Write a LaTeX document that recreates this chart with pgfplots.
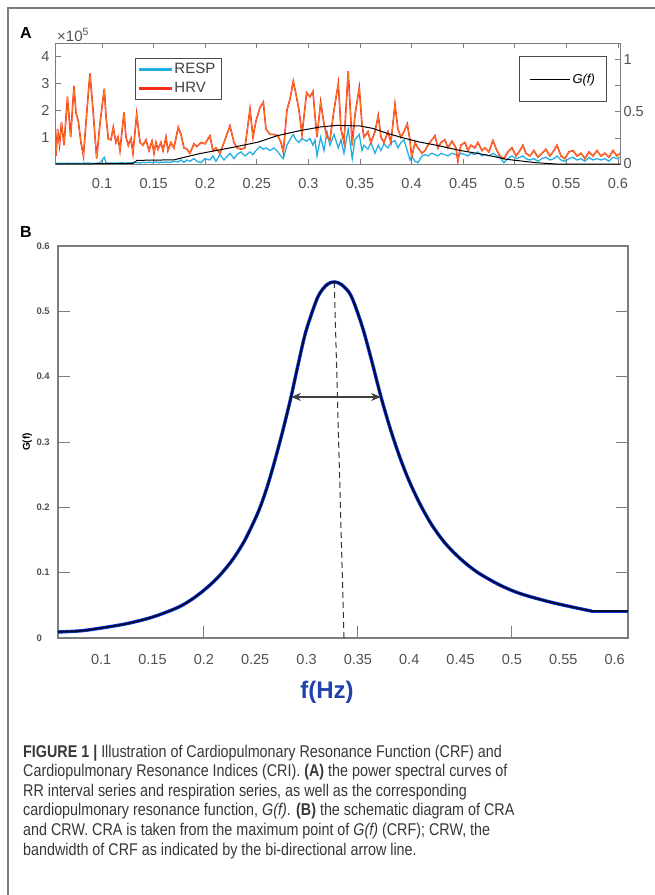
\documentclass[border=0pt]{standalone}
\usepackage{graphicx}
\usepackage{pgfplots}
\usepackage{pgfplotstable}
\pgfplotsset{compat=1.18}
\usetikzlibrary{arrows.meta}
\usepackage{fontspec}
\setmainfont{Liberation Sans}
\definecolor{axgray}{RGB}{125,125,125}
\definecolor{lblgray}{RGB}{80,80,80}
\definecolor{leggray}{RGB}{65,65,65}
\definecolor{capgray}{RGB}{55,55,55}
\definecolor{hrvred}{RGB}{245,45,25}
\definecolor{hrvorange}{RGB}{255,150,40}
\definecolor{respcyan}{RGB}{35,175,225}
\definecolor{gblue}{RGB}{10,55,225}
\definecolor{gdark}{RGB}{5,10,50}
\definecolor{hzblue}{RGB}{35,65,170}

\pgfplotstableread{
f hrv resp
0.0554 0.3 0.02
0.0569 1.3 0.03
0.0588 0.7 0.02
0.0607 1.55 0.03
0.0632 0.7 0.02
0.0665 2.5 0.03
0.0696 1.0 0.02
0.0728 2.9 0.03
0.0748 1.9 0.02
0.0770 1.6 0.03
0.0796 0.8 0.02
0.0820 0.3 0.03
0.0854 2.0 0.04
0.0883 3.37 0.03
0.0913 2.0 0.02
0.0948 0.2 0.03
0.0980 1.5 0.04
0.1022 2.8 0.25
0.1038 1.8 0.05
0.1061 0.93 0.03
0.1087 0.9 0.04
0.1109 1.37 0.03
0.1135 0.8 0.04
0.1155 1.0 0.03
0.1174 0.5 0.05
0.1213 1.92 0.04
0.1232 1.0 0.03
0.1255 0.69 0.05
0.1281 0.95 0.04
0.1300 0.4 0.06
0.1336 1.86 0.05
0.1368 0.8 0.04
0.1397 0.7 0.06
0.1426 0.9 0.05
0.1455 0.5 0.07
0.1484 0.85 0.05
0.1504 0.4 0.06
0.1523 0.8 0.08
0.1542 0.55 0.05
0.1571 0.8 0.07
0.1591 0.5 0.06
0.1620 1.0 0.08
0.1639 0.5 0.06
0.1668 0.8 0.07
0.1697 0.6 0.1
0.1739 1.37 0.08
0.1765 1.1 0.15
0.1794 0.6 0.06
0.1823 0.55 0.15
0.1852 0.4 0.1
0.1891 0.75 0.2
0.1920 0.65 0.1
0.1959 0.8 0.05
0.1998 0.75 0.2
0.2046 1.05 0.15
0.2075 0.5 0.3
0.2104 0.6 0.1
0.2143 0.4 0.35
0.2182 0.8 0.15
0.2240 1.42 0.4
0.2279 0.8 0.2
0.2308 0.6 0.35
0.2347 0.55 0.45
0.2385 0.6 0.3
0.2434 2.04 0.45
0.2463 1.0 0.35
0.2492 1.6 0.5
0.2531 2.1 0.65
0.2563 2.3 0.55
0.2589 1.3 0.6
0.2628 1.1 0.5
0.2666 1.1 0.6
0.2705 1.05 0.45
0.2734 0.8 0.3
0.2757 0.44 0.2
0.2792 2.0 0.7
0.2821 2.4 0.9
0.2853 3.08 1.1
0.2880 2.6 0.9
0.2909 2.0 0.8
0.2938 1.1 0.95
0.2983 2.65 0.85
0.3015 2.5 0.95
0.3044 2.7 0.7
0.3064 1.8 0.9
0.3083 1.0 0.3
0.3119 2.3 1.0
0.3151 1.5 0.5
0.3180 1.0 1.2
0.3209 0.9 0.7
0.3248 2.0 1.1
0.3290 3.0 0.6
0.3316 1.3 0.9
0.3345 0.8 0.4
0.3386 3.45 1.3
0.3425 0.69 0.2
0.3451 1.8 0.9
0.3493 2.84 1.1
0.3519 1.5 0.5
0.3539 1.0 0.7
0.3577 1.2 0.55
0.3606 0.8 0.8
0.3645 1.2 0.4
0.3677 1.8 0.7
0.3703 1.0 0.5
0.3732 0.8 0.75
0.3771 1.2 0.6
0.3800 0.8 0.8
0.3839 2.22 0.87
0.3868 1.3 0.6
0.3897 1.0 0.8
0.3926 1.2 0.9
0.3958 1.49 0.5
0.3984 0.9 0.15
0.4001 0.26 0.3
0.4033 0.8 0.1
0.4062 0.6 0.05
0.4101 0.4 0.3
0.4130 0.5 0.35
0.4159 0.7 0.3
0.4197 0.9 0.4
0.4227 1.05 0.35
0.4256 0.6 0.3
0.4285 0.8 0.4
0.4323 0.9 0.35
0.4353 0.6 0.3
0.4391 0.85 0.4
0.4430 0.6 0.35
0.4449 0.1 0.3
0.4478 0.7 0.4
0.4517 0.8 0.35
0.4546 0.5 0.3
0.4575 0.7 0.4
0.4614 0.6 0.35
0.4643 0.8 0.45
0.4682 0.5 0.3
0.4711 0.6 0.35
0.4750 0.45 0.3
0.4788 0.87 0.4
0.4827 0.5 0.3
0.4856 0.3 0.25
0.4895 0.2 0.05
0.4934 0.45 0.2
0.4973 0.6 0.3
0.5012 0.3 0.2
0.5050 0.5 0.25
0.5079 0.7 0.3
0.5108 0.4 0.2
0.5147 0.3 0.15
0.5186 0.5 0.2
0.5225 0.25 0.1
0.5264 0.4 0.2
0.5302 0.55 0.25
0.5341 0.3 0.15
0.5380 0.5 0.2
0.5409 0.7 0.3
0.5448 0.3 0.15
0.5486 0.2 0.1
0.5525 0.45 0.2
0.5564 0.5 0.25
0.5603 0.3 0.15
0.5642 0.4 0.2
0.5680 0.2 0.1
0.5719 0.45 0.25
0.5758 0.3 0.15
0.5797 0.5 0.2
0.5835 0.3 0.15
0.5874 0.4 0.2
0.5913 0.25 0.1
0.5952 0.5 0.25
0.5991 0.3 0.2
0.6020 0.4 0.25
}\spectab

\pgfplotstableread{
f g
0.0554 0.0
0.100 0.003
0.130 0.005
0.134 0.035
0.170 0.040
0.180 0.065
0.195 0.100
0.227 0.160
0.2514 0.210
0.2693 0.270
0.2918 0.320
0.3115 0.355
0.3274 0.370
0.350 0.365
0.363 0.340
0.376 0.295
0.392 0.250
0.408 0.210
0.424 0.180
0.447 0.130
0.473 0.086
0.492 0.045
0.521 0.012
0.540 0.000
0.602 0.000
}\gtabA

\pgfplotstableread{
f g
0.058 0.0092
0.080 0.011
0.099 0.015
0.125 0.022
0.150 0.032
0.175 0.047
0.190 0.061
0.203 0.077
0.215 0.095
0.228 0.120
0.240 0.150
0.2527 0.192
0.261 0.228
0.2685 0.268
0.277 0.318
0.2849 0.369
0.292 0.420
0.2995 0.470
0.311 0.522
0.320 0.541
0.327 0.545
0.334 0.541
0.3433 0.524
0.354 0.478
0.363 0.427
0.3725 0.369
0.382 0.318
0.391 0.276
0.400 0.240
0.4105 0.205
0.422 0.173
0.435 0.145
0.450 0.121
0.466 0.101
0.487 0.082
0.508 0.068
0.540 0.054
0.578 0.041
}\gtabB

\newcommand\capline[2]{\node[anchor=base west, inner sep=0pt, text=capgray] at (23pt,-#1pt) {\scalebox{0.843}[1]{\fontsize{17}{17}\selectfont #2}};}

\begin{document}
\begin{tikzpicture}
\useasboundingbox (0pt,0pt) rectangle (655pt,-895pt);
\draw[axgray, line width=1.4pt] (8pt,-896pt) -- (8pt,-8pt) -- (656pt,-8pt);
\node[font=\bfseries\fontsize{16}{16}\selectfont, anchor=center] at (26pt,-33pt) {A};
\node[font=\bfseries\fontsize{16}{16}\selectfont, anchor=center] at (26pt,-232pt) {B};
\node[anchor=west, inner sep=0pt, text=lblgray, font=\fontsize{15}{15}\selectfont] at (57pt,-35pt) {×10\textsuperscript{5}};

% ---------- Panel A, left axis ----------
\begin{axis}[
  at={(56pt,-164pt)}, anchor=south west, scale only axis,
  width=564pt, height=121pt,
  xmin=0.0554, xmax=0.602, ymin=0, ymax=4.5,
  axis line style={axgray, line width=1pt},
  tick style={axgray, line width=0.8pt},
  tick align=inside, major tick length=5pt,
  xtick={0.1,0.15,0.2,0.25,0.3,0.35,0.4,0.45,0.5,0.55,0.6},
  xticklabels={0.1,0.15,0.2,0.25,0.3,0.35,0.4,0.45,0.5,0.55,0.6},
  ytick={1,2,3,4}, yticklabels={1,2,3,4}, ytick pos=left,
  ticklabel style={font=\fontsize{14.5}{14.5}\selectfont, text=lblgray},
  xticklabel style={yshift=-11pt},
  yticklabel style={xshift=-3pt},
  legend style={at={(0.140,0.876)}, anchor=north west, draw=black!70, line width=1pt,
    fill=white, font=\fontsize{15}{17}\selectfont,
    inner xsep=4pt, inner ysep=3pt, row sep=3pt},
  legend cell align=left,
  legend image code/.code={\fill[#1] (0pt,-1.2pt) rectangle (33pt,1.2pt);},
]
\addlegendimage{fill=respcyan, draw=none}
\addlegendentry{\textcolor{leggray}{RESP}}
\addlegendimage{fill=hrvred, draw=none}
\addlegendentry{\textcolor{leggray}{HRV}}
\addplot[draw=respcyan, line width=1.3pt, forget plot] table[x=f,y=resp] {\spectab};
\addplot[draw=hrvred, line width=1.6pt, forget plot] table[x=f,y=hrv] {\spectab};
\addplot[draw=hrvorange, line width=0.5pt, forget plot] table[x=f,y=hrv] {\spectab};
\end{axis}

% ---------- Panel A, right axis ----------
\begin{axis}[
  at={(56pt,-164pt)}, anchor=south west, scale only axis,
  width=564pt, height=121pt,
  xmin=0.0554, xmax=0.602, ymin=0, ymax=1.16,
  axis x line=none, axis y line*=right,
  axis line style={axgray, line width=1pt},
  tick style={axgray, line width=0.8pt},
  tick align=inside, major tick length=5pt,
  ytick={0,0.25,0.5,0.75,1}, yticklabels={0,,0.5,,1},
  ticklabel style={font=\fontsize{14.5}{14.5}\selectfont, text=lblgray},
  legend style={at={(0.821,0.889)}, anchor=north west, draw=black!70, line width=1pt,
    fill=white, font=\fontsize{13}{15}\selectfont, text=black,
    inner xsep=10pt, inner ysep=15pt},
  legend image code/.code={\draw[#1] (0pt,0pt) -- (40pt,0pt);},
]
\addplot[draw=black, line width=1pt] table[x=f,y=g] {\gtabA};
\addlegendentry{\textit{G(f)}}
\end{axis}

% ---------- Panel B ----------
\begin{axis}[
  at={(58pt,-638pt)}, anchor=south west, scale only axis,
  width=570pt, height=392pt,
  xmin=0.058, xmax=0.613, ymin=0, ymax=0.6,
  axis line style={axgray, line width=1.2pt},
  tick style={axgray, line width=1pt},
  tick align=inside,
  xtick={0.1,0.15,0.2,0.25,0.3,0.35,0.4,0.45,0.5,0.55,0.6},
  xticklabels={0.1,0.15,0.2,0.25,0.3,0.35,0.4,0.45,0.5,0.55,0.6},
  xtick pos=bottom, xtick style={draw=none},
  extra x ticks={0.2,0.35,0.5}, extra x tick labels={},
  extra x tick style={xtick style={draw=axgray}, major tick length=12pt},
  xticklabel style={font=\fontsize{14.5}{14.5}\selectfont, text=lblgray, yshift=-13pt},
  ytick={0,0.1,0.2,0.3,0.4,0.5,0.6}, yticklabels={0,0.1,0.2,0.3,0.4,0.5,0.6},
  ytick pos=both, major tick length=12pt,
  yticklabel style={font=\bfseries\fontsize{9.5}{9.5}\selectfont, text=lblgray, anchor=west, xshift=-25pt},
  ylabel={\bfseries G(f)}, ylabel style={font=\fontsize{9.5}{9.5}\selectfont, text=lblgray},
  every axis y label/.style={at={(axis description cs:-0.054,0.5)}, rotate=90, anchor=center},
  xlabel={f(Hz)},
  every axis x label/.style={at={(axis description cs:0.472,-0.138)}, anchor=center,
    font=\bfseries\fontsize{24}{24}\selectfont, text=hzblue},
]
\addplot[draw=gblue, line width=3.4pt, smooth] table[x=f,y=g] {\gtabB};
\addplot[draw=gblue, line width=3.4pt] coordinates {(0.578,0.041) (0.613,0.041)};
\addplot[draw=gdark, line width=1.8pt, smooth] table[x=f,y=g] {\gtabB};
\addplot[draw=gdark, line width=1.8pt] coordinates {(0.578,0.041) (0.613,0.041)};
\addplot[draw=black!80, line width=1pt, dash pattern=on 6pt off 4pt] coordinates {(0.327,0.545) (0.3365,0)};
\addplot[draw=black!75, line width=1.2pt, {Stealth[length=10pt,width=8pt]}-{Stealth[length=10pt,width=8pt]}] coordinates {(0.2849,0.369) (0.3725,0.369)};
\end{axis}

% ---------- Caption ----------
\capline{757}{\textbf{FIGURE 1 |} Illustration of Cardiopulmonary Resonance Function (CRF) and}
\capline{776.6}{Cardiopulmonary Resonance Indices (CRI). \textbf{(A)} the power spectral curves of}
\capline{796.2}{RR interval series and respiration series, as well as the corresponding}
\capline{815.8}{cardiopulmonary resonance function, \textit{G(f)}. \textbf{(B)} the schematic diagram of CRA}
\capline{835.4}{and CRW. CRA is taken from the maximum point of \textit{G(f)} (CRF); CRW, the}
\capline{855}{bandwidth of CRF as indicated by the bi-directional arrow line.}
\end{tikzpicture}
\end{document}
